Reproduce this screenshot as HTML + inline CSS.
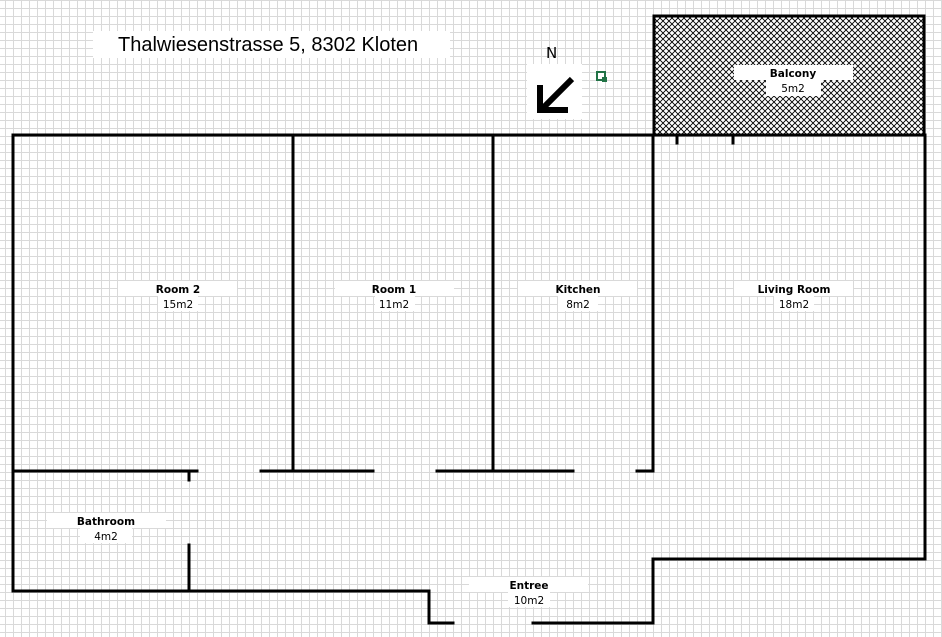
<!DOCTYPE html>
<html><head><style>
body{margin:0;width:942px;height:637px;overflow:hidden;background:#fff}
svg{display:block}
text{font-family:"DejaVu Sans","Liberation Sans",sans-serif;font-size:10.5px;fill:#000}
</style></head><body>
<svg width="942" height="637" viewBox="0 0 942 637" xmlns="http://www.w3.org/2000/svg">
<defs>
<pattern id="g" x="5" y="0" width="8" height="8" patternUnits="userSpaceOnUse">
<path d="M0 0.5H8M0.5 0V8" stroke="#d9d9d9" stroke-width="1" fill="none"/>
</pattern>
<pattern id="h" width="6" height="6" patternUnits="userSpaceOnUse">
<rect width="6" height="6" fill="#fff"/>
<path d="M0 0L6 6M6 0L0 6" stroke="#000" stroke-width="0.9"/>
</pattern>
</defs>
<rect width="942" height="637" fill="#fff"/>
<rect width="942" height="637" fill="url(#g)"/>
<rect x="654" y="16" width="270" height="119" fill="url(#h)" stroke="#000" stroke-width="3"/>
<g stroke="#000" stroke-width="3" fill="none" stroke-linecap="square">
<path d="M13 135H925V559H653V623H533"/>
<path d="M453 623H429V591H13V135"/>
<path d="M293 135V471M493 135V471M653 135V471"/>
<path d="M13 471H197M261 471H373M437 471H573M637 471H653"/>
<path d="M189 471V480M189 545V591"/>
<path d="M677 135V143M733 135V143"/>
</g>
<rect x="93" y="31" width="357" height="27" fill="#fff"/>
<text x="118" y="51" style="font-family:'Liberation Sans',sans-serif;font-size:20px">Thalwiesenstrasse 5, 8302 Kloten</text>
<rect x="527" y="64" width="55" height="55" fill="#fff"/>
<text x="546" y="58" style="font-size:15px">N</text>
<path d="M572 79L543 108" stroke="#000" stroke-width="6"/>
<path d="M540 85V110H568" stroke="#000" stroke-width="6" fill="none"/>
<rect x="597" y="72" width="8" height="8" fill="#fff" stroke="#217346" stroke-width="2"/>
<rect x="602" y="77" width="5" height="5" fill="#217346"/>
<g text-anchor="middle">
<rect x="734" y="65" width="119" height="15" fill="#fff"/><rect x="766" y="80" width="55" height="16" fill="#fff"/>
<text x="793" y="77" font-weight="bold">Balcony</text><text x="793" y="92">5m2</text>
<rect x="118" y="281" width="119" height="15" fill="#fff"/><rect x="158" y="296" width="40" height="15" fill="#fff"/>
<text x="178" y="293" font-weight="bold">Room 2</text><text x="178" y="308">15m2</text>
<rect x="335" y="281" width="119" height="15" fill="#fff"/><rect x="375" y="296" width="40" height="15" fill="#fff"/>
<text x="394" y="293" font-weight="bold">Room 1</text><text x="394" y="308">11m2</text>
<rect x="518" y="281" width="119" height="15" fill="#fff"/><rect x="558" y="296" width="40" height="15" fill="#fff"/>
<text x="578" y="293" font-weight="bold">Kitchen</text><text x="578" y="308">8m2</text>
<rect x="734" y="281" width="119" height="15" fill="#fff"/><rect x="774" y="296" width="40" height="15" fill="#fff"/>
<text x="794" y="293" font-weight="bold">Living Room</text><text x="794" y="308">18m2</text>
<rect x="47" y="513" width="119" height="15" fill="#fff"/><rect x="80" y="528" width="52" height="15" fill="#fff"/>
<text x="106" y="525" font-weight="bold">Bathroom</text><text x="106" y="540">4m2</text>
<rect x="469" y="577" width="119" height="15" fill="#fff"/><rect x="508" y="592" width="42" height="15" fill="#fff"/>
<text x="529" y="589" font-weight="bold">Entree</text><text x="529" y="604">10m2</text>
</g>
</svg>
</body></html>
